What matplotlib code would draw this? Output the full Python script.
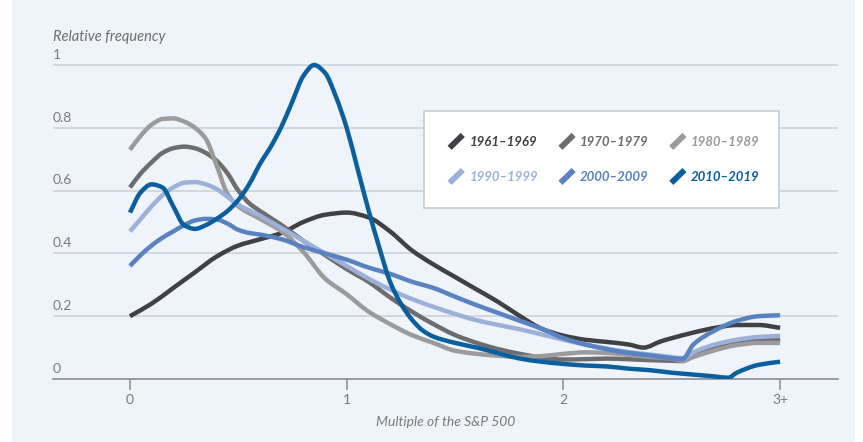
import matplotlib
matplotlib.use("Agg")
import matplotlib.pyplot as plt
from matplotlib.lines import Line2D
from matplotlib.legend_handler import HandlerBase
from matplotlib.patches import Rectangle, PathPatch
from matplotlib.path import Path

# ---- data -------------------------------------------------------------
decades = ["1961–1969", "1970–1979", "1980–1989", "1990–1999", "2000–2009", "2010–2019"]

x_1960s = [0, 0.1, 0.2, 0.3, 0.4, 0.5, 0.6, 0.7, 0.8, 0.9, 1.0, 1.1, 1.2, 1.3, 1.4, 1.5,
           1.6, 1.7, 1.8, 1.9, 2.0, 2.1, 2.2, 2.3, 2.37, 2.45, 2.5, 2.6, 2.7, 2.8, 2.9, 3.0]
y_1960s = [0.20, 0.24, 0.29, 0.34, 0.39, 0.425, 0.445, 0.465, 0.50, 0.523, 0.53, 0.515,
           0.47, 0.41, 0.365, 0.325, 0.285, 0.245, 0.20, 0.16, 0.138, 0.125, 0.118, 0.11,
           0.10, 0.12, 0.13, 0.148, 0.163, 0.172, 0.172, 0.163]

x_1970s = [0, 0.05, 0.1, 0.15, 0.2, 0.25, 0.3, 0.35, 0.4, 0.45, 0.5, 0.55, 0.6, 0.7, 0.8,
           0.9, 1.0, 1.1, 1.2, 1.3, 1.4, 1.5, 1.6, 1.7, 1.8, 1.9, 2.0, 2.1, 2.2, 2.3, 2.4,
           2.5, 2.55, 2.6, 2.7, 2.8, 2.9, 3.0]
y_1970s = [0.61, 0.655, 0.69, 0.72, 0.735, 0.74, 0.735, 0.72, 0.695, 0.655, 0.60, 0.56,
           0.535, 0.49, 0.44, 0.395, 0.35, 0.31, 0.26, 0.215, 0.175, 0.14, 0.115, 0.095,
           0.08, 0.068, 0.062, 0.063, 0.065, 0.063, 0.06, 0.058, 0.057, 0.075, 0.10, 0.115,
           0.122, 0.125]

x_1980s = [0, 0.05, 0.1, 0.15, 0.2, 0.25, 0.3, 0.35, 0.4, 0.45, 0.5, 0.6, 0.7, 0.8, 0.9,
           1.0, 1.1, 1.2, 1.3, 1.4, 1.5, 1.6, 1.7, 1.8, 1.9, 2.0, 2.1, 2.2, 2.3, 2.4, 2.5,
           2.55, 2.6, 2.7, 2.8, 2.9, 3.0]
y_1980s = [0.73, 0.775, 0.81, 0.828, 0.83, 0.82, 0.80, 0.765, 0.68, 0.59, 0.55, 0.51,
           0.47, 0.405, 0.32, 0.27, 0.215, 0.175, 0.14, 0.115, 0.09, 0.08, 0.074, 0.07,
           0.073, 0.08, 0.085, 0.083, 0.077, 0.07, 0.065, 0.058, 0.07, 0.092, 0.108, 0.115,
           0.115]

x_1990s = [0, 0.05, 0.1, 0.15, 0.2, 0.25, 0.3, 0.35, 0.4, 0.45, 0.5, 0.6, 0.7, 0.8, 0.9,
           1.0, 1.1, 1.2, 1.3, 1.4, 1.5, 1.6, 1.7, 1.8, 1.9, 2.0, 2.1, 2.2, 2.3, 2.4, 2.5,
           2.55, 2.6, 2.7, 2.8, 2.9, 3.0]
y_1990s = [0.47, 0.51, 0.55, 0.585, 0.61, 0.625, 0.627, 0.62, 0.605, 0.58, 0.555, 0.52,
           0.48, 0.44, 0.40, 0.36, 0.32, 0.285, 0.255, 0.23, 0.207, 0.187, 0.172, 0.158,
           0.142, 0.125, 0.11, 0.097, 0.086, 0.078, 0.07, 0.066, 0.085, 0.11, 0.125, 0.134,
           0.137]

x_2000s = [0, 0.05, 0.1, 0.15, 0.2, 0.25, 0.3, 0.35, 0.4, 0.45, 0.5, 0.55, 0.6, 0.7, 0.8,
           0.9, 1.0, 1.1, 1.2, 1.3, 1.4, 1.5, 1.6, 1.7, 1.8, 1.9, 2.0, 2.1, 2.2, 2.3, 2.4,
           2.5, 2.55, 2.6, 2.7, 2.8, 2.9, 3.0]
y_2000s = [0.36, 0.395, 0.425, 0.45, 0.47, 0.49, 0.505, 0.51, 0.508, 0.495, 0.475, 0.465,
           0.46, 0.445, 0.42, 0.40, 0.38, 0.355, 0.335, 0.31, 0.29, 0.262, 0.235, 0.21,
           0.185, 0.16, 0.13, 0.11, 0.095, 0.083, 0.075, 0.066, 0.064, 0.11, 0.155, 0.185,
           0.20, 0.203]

x_2010s = [0, 0.05, 0.1, 0.15, 0.2, 0.25, 0.3, 0.35, 0.4, 0.45, 0.5, 0.55, 0.6, 0.65, 0.7,
           0.75, 0.8, 0.85, 0.9, 0.95, 1.0, 1.05, 1.1, 1.15, 1.2, 1.25, 1.3, 1.35, 1.4, 1.5,
           1.6, 1.7, 1.8, 1.9, 2.0, 2.1, 2.2, 2.3, 2.4, 2.5, 2.6, 2.7, 2.76, 2.8, 2.9, 3.0]
y_2010s = [0.53, 0.595, 0.62, 0.61, 0.55, 0.49, 0.478, 0.49, 0.51, 0.535, 0.57, 0.62,
           0.685, 0.74, 0.805, 0.885, 0.965, 1.0, 0.975, 0.9, 0.80, 0.67, 0.54, 0.42, 0.31,
           0.24, 0.19, 0.155, 0.135, 0.115, 0.10, 0.082, 0.065, 0.055, 0.048, 0.043, 0.04,
           0.033, 0.028, 0.02, 0.014, 0.008, 0.004, 0.02, 0.045, 0.055]

xs = [x_1960s, x_1970s, x_1980s, x_1990s, x_2000s, x_2010s]
ys = [y_1960s, y_1970s, y_1980s, y_1990s, y_2000s, y_2010s]

x_ticks = [0, 1, 2, 3]
x_tick_labels = ["0", "1", "2", "3+"]
y_ticks = [0, 0.2, 0.4, 0.6, 0.8, 1]
y_tick_labels = ["0", "0.2", "0.4", "0.6", "0.8", "1"]

colors = ["#404144", "#6d6d6f", "#9b9b9d", "#9cb1d9", "#5982c1", "#0b5f9f"]


def smooth_path(x, y):
    """Shape-preserving cubic Bezier path through the given points."""
    n = len(x)
    h = [x[i + 1] - x[i] for i in range(n - 1)]
    d = [(y[i + 1] - y[i]) / h[i] for i in range(n - 1)]
    m = [0.0] * n
    m[0], m[-1] = d[0], d[-1]
    for i in range(1, n - 1):
        if d[i - 1] * d[i] <= 0:
            m[i] = 0.0
        else:
            w1 = 2 * h[i] + h[i - 1]
            w2 = h[i] + 2 * h[i - 1]
            m[i] = (w1 + w2) / (w1 / d[i - 1] + w2 / d[i])
    verts = [(x[0], y[0])]
    codes = [Path.MOVETO]
    for i in range(n - 1):
        verts += [(x[i] + h[i] / 3, y[i] + m[i] * h[i] / 3),
                  (x[i + 1] - h[i] / 3, y[i + 1] - m[i + 1] * h[i] / 3),
                  (x[i + 1], y[i + 1])]
        codes += [Path.CURVE4] * 3
    return Path(verts, codes)


# ---- figure -----------------------------------------------------------
W, H = 863, 442
fig = plt.figure(figsize=(W / 100, H / 100), dpi=100, facecolor="white")
fig.patches.append(Rectangle((12 / W, 0), (855 - 12) / W, 1, transform=fig.transFigure,
                             facecolor="#eef4f9", edgecolor="none", zorder=-10))

left_px, right_px, top_px, bottom_px = 53, 838, 20, 379
ax = fig.add_axes([left_px / W, 1 - bottom_px / H, (right_px - left_px) / W,
                   (bottom_px - top_px) / H])
ax.set_facecolor("none")
ax.set_xlim(-0.355, 3.267)
ax.set_ylim(0, (bottom_px - top_px) / 314)

for s in ["top", "right", "left"]:
    ax.spines[s].set_visible(False)
ax.spines["bottom"].set_color("#8c8c8c")
ax.spines["bottom"].set_linewidth(1.2)

tick_font = dict(family="Lato", color="#7a7a7a", fontsize=10)

ax.set_xticks(x_ticks)
ax.set_xticklabels(x_tick_labels, **tick_font)
ax.tick_params(axis="x", length=8, width=1.1, color="#8c8c8c", pad=3, direction="out")
ax.set_yticks([])

# horizontal grid lines with labels sitting above them at the left edge
for yv, lab in zip(y_ticks, y_tick_labels):
    if yv > 0:
        ax.axhline(yv, color="#cfd3d7", lw=1.2, zorder=0)
    ax.annotate(lab, xy=(0, yv), xycoords=("axes fraction", "data"),
                xytext=(0, 3), textcoords="offset points", ha="left", va="bottom",
                **tick_font)

ax.text(0, (bottom_px - 37) / 314, "Relative frequency", transform=ax.get_yaxis_transform(),
        ha="left", va="center", family="Lato", style="italic", fontsize=10.5, color="#6e6e6e")

ax.set_xlabel("Multiple of the S&P 500", family="Lato", style="italic", fontsize=10,
              color="#7a7a7a", labelpad=7)

handles = []
for xv, yv, c, lab in zip(xs, ys, colors, decades):
    ax.add_patch(PathPatch(smooth_path(xv, yv), facecolor="none", edgecolor=c, lw=3.2,
                           capstyle="butt", joinstyle="round", zorder=3))
    handles.append(Line2D([], [], color=c, label=lab))


class SlashHandler(HandlerBase):
    def create_artists(self, legend, orig_handle, xdescent, ydescent, width, height,
                       fontsize, trans):
        seg = Line2D([-xdescent, -xdescent + width], [-ydescent - 1, -ydescent + height + 1],
                     color=orig_handle.get_color(), lw=4.2, solid_capstyle="butt",
                     transform=trans)
        return [seg]


# legend box
bx0 = (424 - left_px) / (right_px - left_px)
bx1 = (779 - left_px) / (right_px - left_px)
by1 = (bottom_px - 111) / (bottom_px - top_px)
by0 = (bottom_px - 208) / (bottom_px - top_px)
ax.add_patch(Rectangle((bx0, by0), bx1 - bx0, by1 - by0, transform=ax.transAxes,
                       facecolor="white", edgecolor="#c9cdd1", lw=1.2, zorder=5))

# row-major order for a 3-column, 2-row legend
order = [0, 3, 1, 4, 2, 5]
leg = ax.legend(handles=[handles[i] for i in order], loc="center",
                bbox_to_anchor=((bx0 + bx1) / 2 + 0.004, (by0 + by1) / 2),
                ncol=3, frameon=False, handler_map={Line2D: SlashHandler()},
                handlelength=1.0, handleheight=0.8, handletextpad=0.5, columnspacing=1.7,
                labelspacing=1.75, prop=dict(family="Lato", style="italic", weight="bold",
                                             size=9.5))
leg.set_zorder(6)
for t, i in zip(leg.get_texts(), order):
    t.set_color(colors[i])

fig.savefig("out.png", dpi=100, facecolor=fig.get_facecolor())
